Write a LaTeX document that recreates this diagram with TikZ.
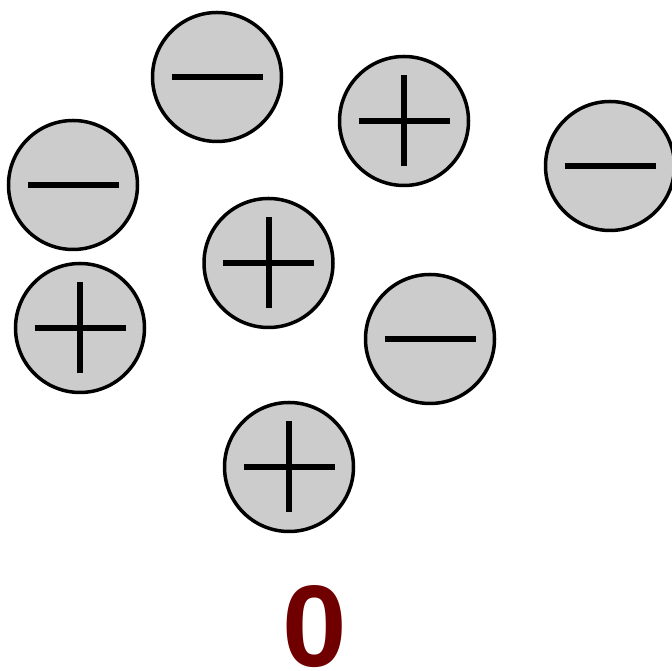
\documentclass[tikz,border=0pt]{standalone}
\usepackage{fontspec}
\setmainfont{Liberation Sans}
\definecolor{ballfill}{RGB}{204,204,204}
\definecolor{zerocol}{RGB}{112,0,0}
\begin{document}
\begin{tikzpicture}[x=1pt,y=1pt,
  ball/.style={circle,draw=black,line width=3.5pt,fill=ballfill,minimum size=129pt,inner sep=0pt},
  bar/.style={line width=6pt}]
\useasboundingbox (0,0) rectangle (672,671);
\newcommand{\minusball}[2]{%
  \node[ball] (#1) at #2 {};
  \draw[bar] ([xshift=-45.5pt]#1.center) -- ([xshift=45.5pt]#1.center);}
\newcommand{\plusball}[2]{%
  \node[ball] (#1) at #2 {};
  \draw[bar] ([xshift=-45.5pt]#1.center) -- ([xshift=45.5pt]#1.center);
  \draw[bar] ([yshift=-45.5pt]#1.center) -- ([yshift=45.5pt]#1.center);}
\minusball{a}{(217,594)}
\plusball{b}{(404,550)}
\minusball{c}{(610,505)}
\minusball{d}{(73,486)}
\plusball{e}{(268.5,408)}
\plusball{f}{(80,343)}
\minusball{g}{(430,332)}
\plusball{h}{(289,204)}
\node[anchor=base,inner sep=0pt,text=zerocol,font=\fontsize{116}{116}\selectfont\bfseries] (zero) at (315,4) {0};
\end{tikzpicture}
\end{document}
